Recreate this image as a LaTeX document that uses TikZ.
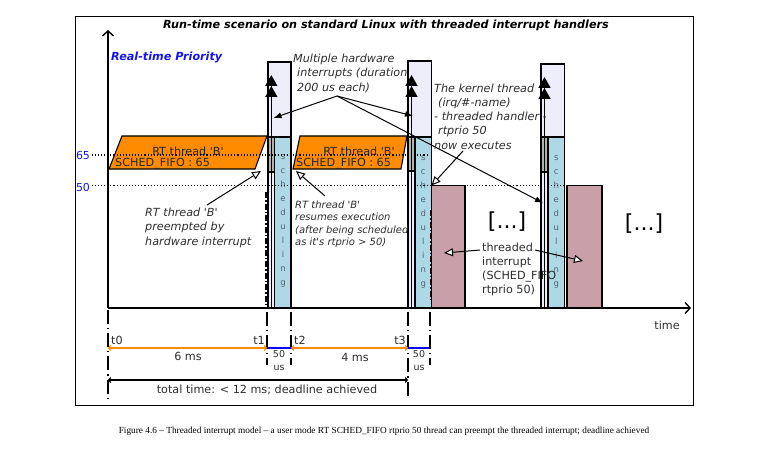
\documentclass[tikz,border=0pt]{standalone}
\usepackage{fontspec}
\setmainfont{DejaVu Sans}
\newfontfamily\capfont{Liberation Serif}
\usepackage{tikz}
\usetikzlibrary{arrows.meta, calc}
\definecolor{rtOrange}{RGB}{255,140,0}
\definecolor{irqLavender}{RGB}{238,238,250}
\definecolor{schedBlue}{RGB}{173,216,230}
\definecolor{thrPink}{RGB}{201,160,168}
\definecolor{prioBlue}{RGB}{20,20,240}
\definecolor{schedText}{RGB}{80,100,115}
\definecolor{noteGray}{RGB}{45,45,45}
\newcommand{\sq}{\textquotesingle}
\tikzset{
  txt/.style={font=\fontsize{11.2}{14}\selectfont, text=noteGray, inner sep=0pt},
  note/.style={txt, font=\fontsize{11.2}{14.2}\selectfont\itshape, align=left},
  smallnote/.style={txt, font=\fontsize{10}{12.4}\selectfont\itshape, align=left},
  prio/.style={font=\fontsize{11}{13}\selectfont, text=prioBlue, inner sep=1.5pt},
  rttxt/.style={font=\fontsize{11.2}{13}\selectfont, text=black!85, inner sep=0pt},
  schedtxt/.style={font=\fontsize{8.5}{13.9}\selectfont, text=schedText, align=center, inner sep=0pt},
  rtbox/.style={fill=rtOrange, draw=black, line width=1.1pt},
  irqbox/.style={fill=irqLavender, draw=black, line width=1.1pt},
  schedbox/.style={fill=schedBlue, draw=black, line width=1.1pt},
  graybox/.style={fill=black!30, draw=black, line width=1.1pt},
  thrbox/.style={fill=thrPink, draw=black, line width=1.1pt},
  axis/.style={line width=1.4pt, -{Straight Barb[length=5pt,width=11pt]}},
  levelline/.style={dotted, line width=1.1pt},
  irqarrow/.style={line width=1.6pt, -{Triangle[length=11pt,width=12pt] Triangle[length=11pt,width=12pt]}},
  pointer/.style={line width=1pt, -{Latex[length=8pt,width=6pt]}},
  openpointer/.style={line width=1pt, -{Triangle[fill=white,length=9pt,width=8pt]}},
  preemptline/.style={line width=1.6pt, dash pattern=on 6pt off 2pt on 1.5pt off 2pt},
  tmark/.style={line width=1.2pt, dash pattern=on 14pt off 4pt on 1.2pt off 4pt},
  spanline/.style={line width=1.2pt, {Straight Barb[length=2pt,width=5pt]}-{Straight Barb[length=2pt,width=5pt]}},
}

\begin{document}
\begin{tikzpicture}[x=1pt, y=-1pt]
  \useasboundingbox (0,0) rectangle (759,449);
  \draw[line width=0.9pt] (75,16) rectangle (693,405);
  \node[txt, text=black, font=\fontsize{11.2}{13}\selectfont\bfseries\itshape] (title) at (386,25) {Run-time scenario on standard Linux with threaded interrupt handlers};

  % axes
  \coordinate (origin) at (108,308);
  \coordinate (ytop) at (108,30);
  \coordinate (xend) at (691,308);
  \draw[axis] (origin) -- (ytop);
  \draw[axis] (origin) -- (xend);
  \node[prio, inner sep=0pt, font=\fontsize{11.2}{13}\selectfont\bfseries\itshape, anchor=west] (prioLabel) at (111,57) {Real-time Priority};
  \node[txt] (timeLabel) at (667,325) {time};

  % RT thread B
  \filldraw[rtbox] (122,136) -- (267,136) -- (255,169) -- (109,169) -- cycle;
  \filldraw[rtbox] (300,136) -- (407,136) -- (401,169) -- (293,169) -- cycle;
  \node[rttxt, anchor=base] (rtB1) at (188,155.5) {RT thread \sq B\sq};
  \node[rttxt, anchor=base west] (fifo1) at (115,167) {SCHED\_FIFO : 65};
  \node[rttxt, anchor=base] (rtB2) at (359,155.5) {RT thread \sq B\sq};
  \node[rttxt, anchor=base west] (fifo2) at (296,167) {SCHED\_FIFO : 65};

  % interrupts + scheduling
  \filldraw[irqbox] (268,62) rectangle (291,308);
  \filldraw[schedbox] (274.5,137) rectangle (291,308);
  \filldraw[graybox] (268,137) rectangle (274.5,172);
  \draw[irqarrow] (271.3,308) -- (271.3,75);
  \node[schedtxt] (sched1) at (283,221) {s\\c\\h\\e\\d\\u\\l\\i\\n\\g};
  \draw[preemptline] (266,192) -- (266,305);

  \filldraw[irqbox] (408,61) rectangle (431.5,308);
  \filldraw[schedbox] (415,137) rectangle (431.5,308);
  \filldraw[graybox] (408,137) rectangle (415,171);
  \draw[irqarrow] (411.5,308) -- (411.5,75);
  \node[schedtxt] (sched2) at (423.3,222) {s\\c\\h\\e\\d\\u\\l\\i\\n\\g};

  \filldraw[irqbox] (541,64) rectangle (564.5,308);
  \filldraw[schedbox] (548,137) rectangle (564.5,308);
  \filldraw[graybox] (541,137) rectangle (548,172);
  \draw[irqarrow] (544.5,308) -- (544.5,77);
  \node[schedtxt] (sched3) at (556.3,222) {s\\c\\h\\e\\d\\u\\l\\i\\n\\g};

  % threaded handlers
  \filldraw[thrbox] (431.5,185.5) rectangle (465,308);
  \filldraw[thrbox] (567,185.5) rectangle (602,308);
  \draw[preemptline] (430.5,210) -- (430.5,300);
  \node[txt, text=black, font=\fontsize{22}{24}\selectfont] (more1) at (507,222) {[...]};
  \node[txt, text=black, font=\fontsize{22}{24}\selectfont] (more2) at (644,224) {[...]};

  % priority levels
  \node[prio] (p65) at (83,155) {65};
  \node[prio] (p50) at (83,187) {50};
  \coordinate (l65end) at (427,155);
  \coordinate (l50end) at (567,185.5);
  \draw[levelline] (p65) -- (l65end);
  \draw[levelline] (p50.east |- l50end) -- (l50end);

  % notes
  \node[note, anchor=north west] (mhwNote) at (293,54) {Multiple hardware\\\hspace{4pt}interrupts (duration\\\hspace{4pt}200 us each)};
  \coordinate (mhwFork) at (337,96);
  \coordinate (hit1) at (273.5,118);
  \coordinate (hit2) at (413,116);
  \coordinate (hit3) at (543,203);
  \draw[pointer] (mhwFork) -- (hit1);
  \draw[pointer] (mhwFork) -- (hit2);
  \draw[pointer] (mhwFork) -- (hit3);

  \node[note, anchor=north west] (kthNote) at (434,83.5) {The kernel thread\\\hspace{4pt}(irq/\#-name)\\- threaded handler -\\\hspace{4pt}rtprio 50\\now executes};
  \coordinate (kthFoot) at (463,151);
  \draw[openpointer] (kthFoot) -- (431.5,185.5);

  \node[note, anchor=north west] (preNote) at (145,208) {RT thread \sq B\sq\\preempted by\\hardware interrupt};
  \coordinate (preFoot) at (207,205);
  \draw[openpointer] (preFoot) -- (261,171);

  \node[smallnote, anchor=north west] (resNote) at (295,200.5) {RT thread \sq B\sq\\resumes execution\\(after being scheduled\\as it\sq s rtprio > 50)};
  \coordinate (resFoot) at (325,196);
  \draw[openpointer] (resFoot) -- (296,171);

  \node[txt, align=left, anchor=north west] (thrNote) at (482,243) {threaded\\interrupt\\(SCHED\_FIFO\\rtprio 50)};
  \coordinate (thrLeft) at (480,250);
  \coordinate (thrRight) at (535,250);
  \draw[openpointer] (thrLeft) -- (444,253);
  \draw[openpointer] (thrRight) -- (583,261);

  % time line
  \coordinate (t0) at (108,348);
  \coordinate (t1) at (267,348);
  \coordinate (t2) at (291,348);
  \coordinate (t3) at (408,348);
  \coordinate (t4) at (430,348);
  \draw[tmark] ($(t0)+(0,-38)$) -- ($(t0)+(0,50)$);
  \draw[tmark] ($(t1)+(0,-36)$) -- ($(t1)+(0,17)$);
  \draw[tmark] ($(t2)+(0,-36)$) -- ($(t2)+(0,17)$);
  \draw[tmark] ($(t3)+(0,-36)$) -- ($(t3)+(0,50)$);
  \draw[tmark] ($(t4)+(0,-36)$) -- ($(t4)+(0,17)$);
  \draw[spanline, draw=rtOrange] (t0) -- (t1);
  \draw[blue, line width=1.2pt] (t1) -- (t2);
  \draw[spanline, draw=rtOrange] (t2) -- (t3);
  \draw[blue, line width=1.2pt] (t3) -- (t4);
  \node[txt, anchor=south west] (lt0) at ($(t0)+(3,-3)$) {t0};
  \node[txt, anchor=south east] (lt1) at ($(t1)+(-2,-3)$) {t1};
  \node[txt, anchor=south west] (lt2) at ($(t2)+(3,-3)$) {t2};
  \node[txt, anchor=south east] (lt3) at ($(t3)+(-2,-3)$) {t3};
  \node[txt] (d6) at (188,356) {6 ms};
  \node[txt] (d4) at (355,357) {4 ms};
  \node[txt, font=\fontsize{9.5}{13}\selectfont, align=center] (us1) at (279,361) {50\\us};
  \node[txt, font=\fontsize{9.5}{13}\selectfont, align=center] (us2) at (419,361) {50\\us};
  \coordinate (tot0) at ($(t0)+(0,32)$);
  \coordinate (tot1) at ($(t3)+(0,32)$);
  \draw[spanline] (tot0) -- (tot1);
  \node[txt] (total) at (267,390) {total time: < 12 ms; deadline achieved};

  \node[inner sep=0pt, font=\capfont\fontsize{9.3}{11}\selectfont] (caption) at (384,431) {Figure 4.6 – Threaded interrupt model – a user mode RT SCHED\_FIFO rtprio 50 thread can preempt the threaded interrupt; deadline achieved};
\end{tikzpicture}
\end{document}
